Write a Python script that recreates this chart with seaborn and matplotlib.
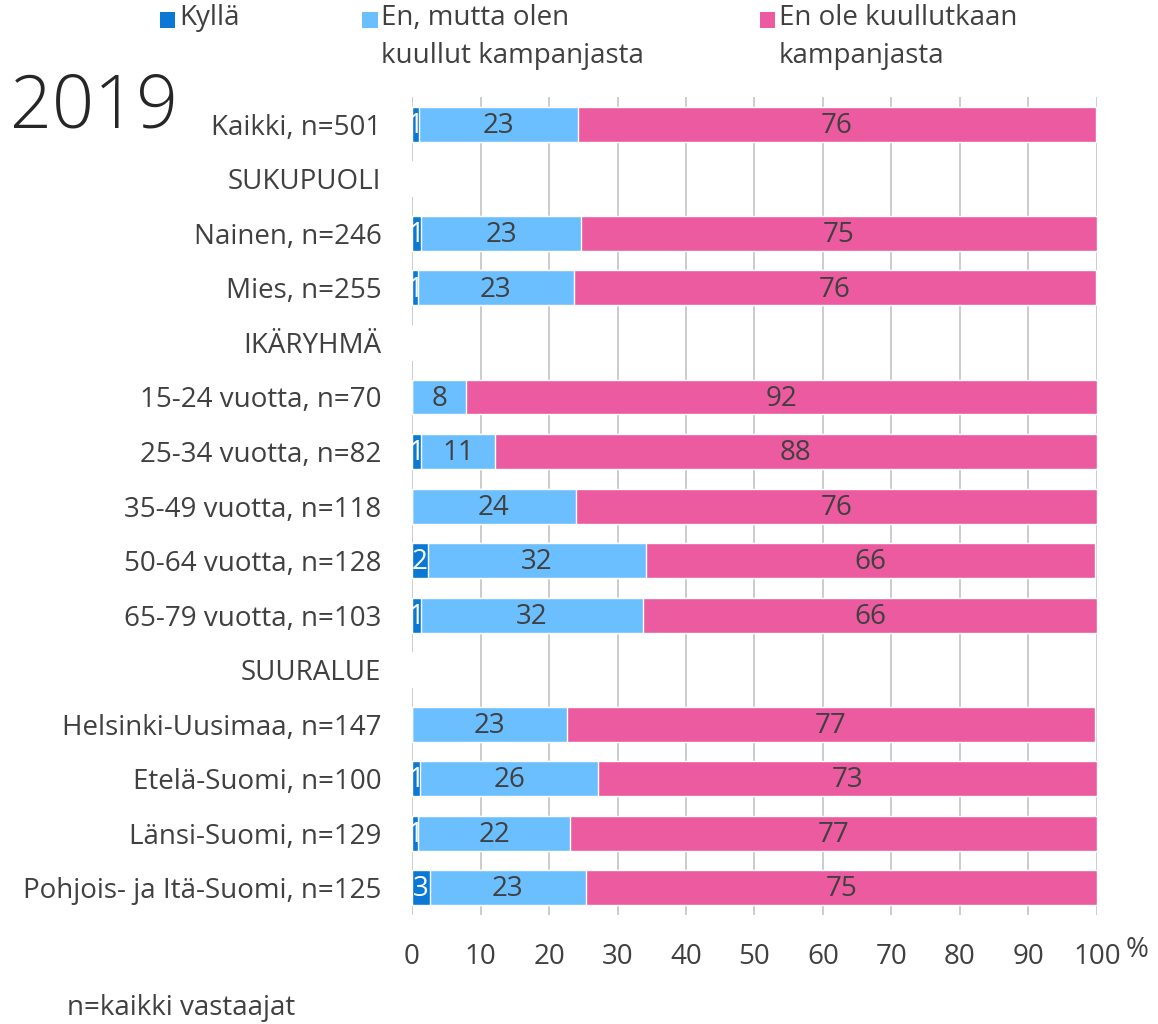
import numpy as np
import pandas as pd
import matplotlib
matplotlib.use('Agg')
import matplotlib.pyplot as plt
from matplotlib.patches import Rectangle
import seaborn as sns

sns.set_style('white')
plt.rcParams['font.family'] = ['Open Sans', 'DejaVu Sans']

# data
categories = ['Kaikki, n=501', 'SUKUPUOLI', 'Nainen, n=246', 'Mies, n=255', 'IKÄRYHMÄ',
              '15-24 vuotta, n=70', '25-34 vuotta, n=82', '35-49 vuotta, n=118',
              '50-64 vuotta, n=128', '65-79 vuotta, n=103', 'SUURALUE',
              'Helsinki-Uusimaa, n=147', 'Etelä-Suomi, n=100', 'Länsi-Suomi, n=129',
              'Pohjois- ja Itä-Suomi, n=125']
kylla = [1.0, 0, 1.3, 0.9, 0, 0, 1.3, 0, 2.3, 1.3, 0, 0, 1.2, 0.9, 2.6]
en_mutta = [23.2, 0, 23.4, 22.7, 0, 7.9, 10.8, 23.9, 31.9, 32.4, 0, 22.6, 26.0, 22.2, 22.8]
en_ole = [75.7, 0, 75.3, 76.3, 0, 92.1, 87.9, 76.1, 65.5, 66.3, 0, 77.1, 72.8, 76.9, 74.6]
series_names = ['Kyllä', 'En, mutta olen\nkuullut kampanjasta', 'En ole kuullutkaan\nkampanjasta']
colors = ['#0A78D4', '#6BBFFF', '#EC5A9F']
text_col = '#404040'
fs = 20

df = pd.DataFrame({'cat': categories, 'k': kylla, 'm': en_mutta, 'o': en_ole})
df['c1'] = df['k']
df['c2'] = df['k'] + df['m']
df['c3'] = df['c2'] + df['o']

fig = plt.figure(figsize=(11.58, 10.24), dpi=100)
ax = fig.add_axes([0.3558, 0.1064, 0.5915, 0.7988])

# stacked bars: draw cumulative totals from the back
for col, c in zip(['c3', 'c2', 'c1'], colors[::-1]):
    sns.barplot(data=df, x=col, y='cat', color=c, orient='h', width=0.64,
                saturation=1, ax=ax, zorder=3)

# segment labels
for i, row in df.iterrows():
    left = 0
    for val, tc in zip([row['k'], row['m'], row['o']], ['white', text_col, text_col]):
        if val > 0:
            ax.text(left + val / 2, i + 0.03, f'{val:.0f}', ha='center', va='center',
                    color=tc, fontsize=fs, zorder=5)
        left += val

ax.set_xlim(0, 100)
ax.set_ylim(len(categories) - 0.5, -0.5)
ax.set_xticks(np.arange(0, 101, 10))
ax.set_xlabel('')
ax.set_ylabel('')
ax.grid(axis='x', color='#C8C8C8', lw=1.3, zorder=0)
for s in ax.spines.values():
    s.set_visible(False)
ax.tick_params(axis='y', length=0, pad=22, labelsize=fs, labelcolor=text_col)
ax.tick_params(axis='x', length=0, pad=20, labelsize=fs, labelcolor=text_col)

fig.text(0.992, 0.072, '%', fontsize=fs, color=text_col, ha='right', va='center')
fig.text(0.009, 0.875, '2019', fontsize=53, color='#262626', fontweight='light',
         ha='left', va='baseline')
fig.text(0.058, 0.009, 'n=kaikki vastaajat', fontsize=fs, color=text_col,
         ha='left', va='baseline')

# legend, drawn by hand so the swatches sit on the first text line
leg_x = [0.138, 0.3125, 0.656]
for x, c, name in zip(leg_x, colors, series_names):
    fig.patches.append(Rectangle((x, 0.9726), 0.0135, 0.0155, facecolor=c,
                                 edgecolor='none', transform=fig.transFigure))
    fig.text(x + 0.0165, 0.996, name, fontsize=fs, color=text_col, ha='left', va='top',
             linespacing=1.45)

fig.savefig('out.png', dpi=100)
